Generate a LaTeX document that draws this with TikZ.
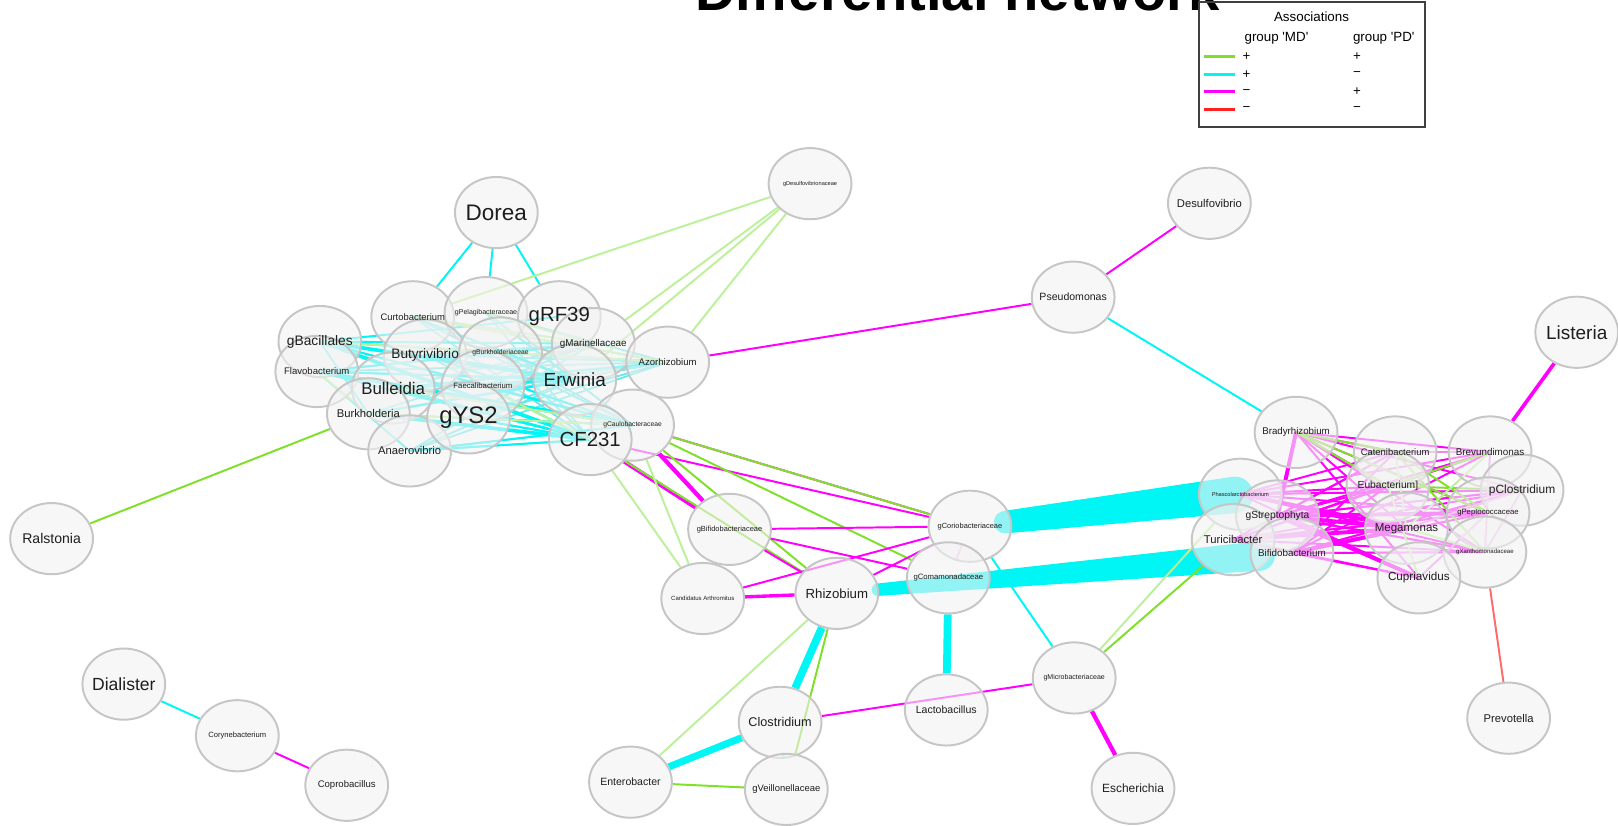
\documentclass[tikz,border=0pt]{standalone}
\usepackage{fontspec}
\setmainfont{Liberation Sans}
\usetikzlibrary{shapes.geometric,calc}
\pgfdeclarelayer{edges}
\pgfdeclarelayer{labels}
\pgfsetlayers{edges,main,labels}
\definecolor{nodefill}{HTML}{F2F2F2}
\definecolor{nodeline}{HTML}{C6C6C6}
\definecolor{labelcol}{HTML}{1E1E1E}
\definecolor{pospos}{HTML}{7FE02A}
\definecolor{posposlt}{HTML}{BDF09A}
\definecolor{posneg}{HTML}{00F5F5}
\definecolor{posneglt}{HTML}{66EAEA}
\definecolor{negpos}{HTML}{FF00FF}
\definecolor{negposlt}{HTML}{EE8AEE}
\definecolor{negneg}{HTML}{FF2020}
\definecolor{negneglt}{HTML}{FF6A6A}
\tikzset{
  taxon/.style={ellipse, draw=nodeline, line width=1.4pt, fill=nodefill, fill opacity=.6,
    minimum width=2.07cm, minimum height=1.78cm, inner sep=0pt},
  taxtext/.style={text=labelcol, inner sep=0pt, font=\fontsize{#1}{#1}\selectfont},
  ppedge/.style={draw=pospos, line width=1.4pt},
  ppfade/.style={draw=posposlt, line width=1.4pt},
  pnedge/.style={draw=posneg, line width=1.4pt},
  pnfade/.style={draw=posneglt, line width=1.3pt},
  npedge/.style={draw=negpos, line width=1.4pt},
  npfade/.style={draw=negposlt, line width=1.4pt},
  nnfade/.style={draw=negneglt, line width=1.4pt},
  legtext/.style={font=\fontsize{9.5}{9.5}\selectfont, inner sep=0pt}
}
\begin{document}
\begin{tikzpicture}[x=0.0258cm, y=-0.0258cm]
\useasboundingbox (0,0) rectangle (1568,800);
\node[font=\fontsize{40}{40}\bfseries\selectfont, anchor=base, inner sep=0pt] (title) at (928,10.5) {Differential network};

\foreach \n/\x/\y/\s/\t in {
  dor/481/206/16/Dorea, dsv/785/178/4/gDesulfovibrionaceae, dsf/1172/197/8/Desulfovibrio,
  psd/1040/288/7.5/Pseudomonas, lis/1528/322/13.5/Listeria, ral/50/522/10/Ralstonia,
  bac/310/331/9.8/gBacillales, fla/307/360/6.8/Flavobacterium, cur/400/307/6.7/Curtobacterium,
  pel/471/303/5/gPelagibacteraceae, rf/542/307/14.5/gRF39, mar/575/333/7/gMarinellaceae,
  azo/647/351/6.8/Azorhizobium, but/412/344/9.7/Butyrivibrio, bur/485/342/4.8/gBurkholderiaceae,
  erw/557/368/13.5/Erwinia, bul/381/376/12/Bulleidia, fae/468/374/5.5/Faecalibacterium,
  bkh/357/401/8/Burkholderia, ana/397/437/8/Anaerovibrio, ys/454/405/17/gYS2,
  cau/613/412/4.8/gCaulobacteraceae, cf/572/426/14.5/CF231,
  bfd/707/513/5.3/gBifidobacteriaceae, cor/940/510/5.3/gCoriobacteriaceae,
  can/681/580/4.3/Candidatus Arthromitus, rhi/811/575/9.4/Rhizobium, com/919/560/5.5/gComamonadaceae,
  clo/756/700/9/Clostridium, lac/917/688/7.5/Lactobacillus, mic/1041/657/5/gMicrobacteriaceae,
  ent/611/758/7.5/Enterobacter, vei/762/765/6.7/gVeillonellaceae, esc/1098/764/8.5/Escherichia,
  pre/1462/696/8/Prevotella, dia/120/663/12.5/Dialister, cry/230/713/5.4/Corynebacterium,
  cop/336/761/6.8/Coprobacillus,
  bra/1256/419/6.9/Bradyrhizobium, cat/1352/438/6.7/Catenibacterium, bre/1444/438/7/Brevundimonas,
  eub/1345/471/7.3/Eubacterium], pcl/1475/475/8.5/pClostridium, pha/1202/479/4/Phascolarctobacterium,
  str/1238/500/7.3/gStreptophyta, pep/1442/497/5.5/gPeptococcaceae, meg/1363/512/8.2/Megamonas,
  tur/1195/523/8/Turicibacter, bif/1252/536/7/Bifidobacterium, xan/1439/535/4.3/gXanthomonadaceae,
  cup/1375/560/8.3/Cupriavidus}{
  \node[taxon] (\n) at (\x,\y) {};
  \begin{pgfonlayer}{labels}
    \node[taxtext=\s] (\n txt) at (\n) {\t};
  \end{pgfonlayer}
}

\begin{pgfonlayer}{edges}
% left cluster
\foreach \a in {bac,fla,bul,bkh,but,cur,ana,ys,fae,bur,pel}
  \foreach \b in {erw,cf,cau,azo,mar}
    \draw[pnfade] (\a.center) -- (\b.center);
\foreach \a/\b in {bac/erw,bac/cf,bac/mar,bac/azo,fla/cau,fla/erw,bul/cf,bkh/cf,bkh/erw,ana/cau,ana/cf,ys/cf,but/erw,but/cau,bac/bkh,fla/ana,bul/azo,cur/erw,bac/rf,fla/mar,bac/cau,bul/erw,ys/cau,fae/cau,fla/cf}
  \draw[pnedge] (\a.center) -- (\b.center);
\foreach \a/\b in {bac/erw,bac/cf,fla/cau,bkh/cf}
  \draw[pnedge, line width=2.6pt] (\a.center) -- (\b.center);
\foreach \a/\b in {cur/mar,bac/azo,fla/bkh,bkh/cau,bul/cau,fae/cf,pel/mar,cur/azo}
  \draw[ppfade] (\a.center) -- (\b.center);
\draw[pnedge] (dor) -- (cur);
\draw[pnedge] (dor) -- (pel);
\draw[pnedge] (dor) -- (rf);
\foreach \b in {cur,mar,erw,azo}
  \draw[ppfade] (dsv) -- (\b);
\draw[npedge] (psd) -- (azo);
\draw[npedge] (psd) -- (dsf);
\draw[pnedge] (psd) -- (bra);
\draw[ppedge] (ral) -- (bkh);
\draw[npedge, line width=2.6pt] (lis) -- (bre);

% middle
\draw[npedge] (cau) -- (cor);
\draw[npedge] (cf) -- (cor);
\draw[npedge, line width=3pt] (cf) -- (bfd);
\draw[npedge, line width=3pt] (cau) -- (bfd);
\foreach \a/\b in {cf/rhi,cau/rhi,cau/com,cau/cor}
  \draw[ppedge] (\a) -- (\b);
\foreach \a/\b in {cf/can,cau/can,bfd/can}
  \draw[ppfade] (\a) -- (\b);
\foreach \a/\b in {bfd/cor,bfd/com,bfd/rhi,can/cor,rhi/cor}
  \draw[npedge] (\a) -- (\b);
\draw[npedge, line width=2.4pt] (can) -- (rhi);
\draw[npfade] (cor) -- (com);
\coordinate (u1) at ($(cor)!0.13!(pha)$);
\coordinate (u2) at ($(cor)!0.98!(pha)$);
\fill[posneg] ($(u1)!8pt!90:(u2)$) -- ($(u2)!13pt!-90:(u1)$) -- ($(u2)!13pt!90:(u1)$) -- ($(u1)!8pt!-90:(u2)$) -- cycle;
\fill[posneg] (u1) circle[radius=8pt] (u2) circle[radius=13pt];
\coordinate (l1) at ($(rhi)!0.09!(bif)$);
\coordinate (l2) at ($(rhi)!0.93!(bif)$);
\fill[posneg] ($(l1)!4.4pt!90:(l2)$) -- ($(l2)!10.5pt!-90:(l1)$) -- ($(l2)!10.5pt!90:(l1)$) -- ($(l1)!4.4pt!-90:(l2)$) -- cycle;
\fill[posneg] (l1) circle[radius=4.4pt] (l2) circle[radius=10.5pt];
\draw[pnedge] (cor) -- (mic);
\draw[pnedge, line width=5.5pt] (com) -- (lac);
\draw[pnedge, line width=5.5pt] (rhi) -- (clo);
\draw[ppedge] (rhi) -- (vei);
\draw[ppfade] (rhi) -- (ent);
\draw[pnedge, line width=5pt] (clo) -- (ent);
\draw[pnedge, line width=2pt] (clo) -- (vei);
\draw[npedge] (clo) -- (mic);
\draw[ppedge] (ent) -- (vei);
\draw[npedge, line width=3pt] (mic) -- (esc);
\draw[ppedge] (mic) -- (tur);
\draw[ppfade] (mic) -- (pha);
\draw[nnfade] (pre) -- (xan);
\draw[pnedge] (dia) -- (cry);
\draw[npedge] (cry) -- (cop);

% right cluster
\foreach \a/\b in {str/xan,bif/pcl,tur/pep,pha/pcl,bif/xan,str/pcl}
  \draw[npfade] (\a.center) -- (\b.center);
\foreach \a in {bra,pha,str,tur,bif}
  \foreach \b in {cat,bre,eub,pcl,pep,meg,xan,cup}
    \draw[npedge] (\a.center) -- (\b.center);
\foreach \a/\b in {bra/eub,bra/pep,cat/pep,eub/pcl,bre/eub,bra/cat,cat/xan}
  \draw[ppedge] (\a.center) -- (\b.center);
\foreach \a/\b in {cat/meg,meg/xan,eub/cup,bre/meg}
  \draw[ppfade] (\a.center) -- (\b.center);
\foreach \a/\b in {str/meg,bif/meg,str/pep,bra/str,tur/meg,pha/meg,str/cup}
  \draw[npedge, line width=2.8pt] (\a.center) -- (\b.center);
\foreach \a/\b in {cat/bre,cup/pep,meg/pcl,bre/xan,pcl/xan}
  \draw[npfade] (\a.center) -- (\b.center);
\end{pgfonlayer}

% legend
\draw[line width=1.2pt, draw=black!75] (1162,2) rectangle (1381,123);
\node[legtext] (assoc) at (1271,16) {Associations};
\node[legtext] (gmd) at (1237,37) {group \textquotesingle MD\textquotesingle};
\node[legtext] (gpd) at (1341,37) {group \textquotesingle PD\textquotesingle};
\foreach \y/\c/\m/\p in {55/pospos/+/+, 72/posneg/+/−, 89/negpos/−/+, 106/negneg/−/−}{
  \draw[\c, line width=2.2pt] (1167,\y) -- (1197,\y);
  \node[legtext] (md\y) at (1208,\y) {\m};
  \node[legtext] (pd\y) at (1315,\y) {\p};
}
\end{tikzpicture}
\end{document}
